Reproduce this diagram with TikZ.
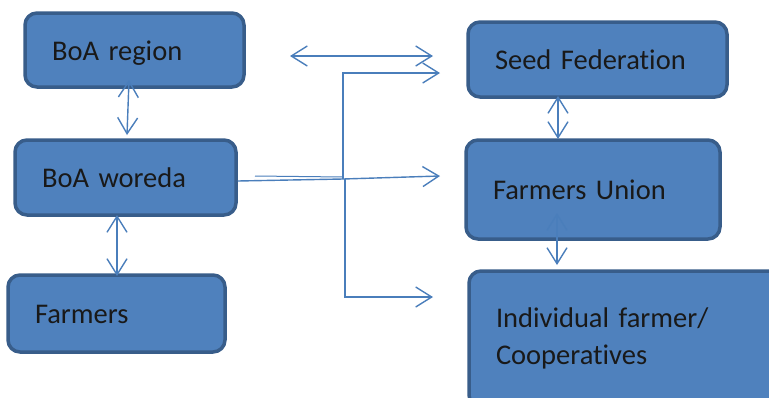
\documentclass[tikz,border=0pt]{standalone}
\usepackage{fontspec}
\setmainfont[RawFeature=-liga, WordSpace=0.85]{Carlito}
\usetikzlibrary{arrows.meta}
\definecolor{boxfill}{HTML}{4F81BD}
\definecolor{boxline}{HTML}{385D8A}
\definecolor{arrowc}{HTML}{4A7EBB}
\tikzset{
  box/.style={draw=boxline, fill=boxfill, line width=3.5pt, rounded corners=12pt,
    inner xsep=27pt, inner ysep=0pt, align=left, text=black!90,
    font=\fontsize{28.5}{37}\selectfont},
  one line/.style={text height=24pt, text depth=4pt},
  conn/.style={draw=arrowc, line width=1.4pt},
  dbl/.style={conn, {Straight Barb[length=16pt,width=20pt]}-{Straight Barb[length=16pt,width=20pt]}},
  one/.style={conn, -{Straight Barb[length=16pt,width=20pt]}}
}
\begin{document}
\begin{tikzpicture}[x=1pt,y=-1pt]
\clip (0,0) rectangle (769,397);
\fill[white] (0,0) rectangle (769,397);
% boxes
\node[box, one line, text width=165pt, minimum height=74pt] (region) at (134.5,50) {BoA region};
\node[box, one line, text width=167pt, minimum height=75pt] (woreda) at (125.5,177.5) {BoA woreda};
\node[box, one line, text width=163pt, minimum height=77pt] (farmers) at (116.5,313.5) {Farmers};
\node[box, one line, text width=205pt, minimum height=75pt] (seed) at (597.5,59.5) {Seed Federation};
\node[box, one line, text width=200pt, minimum height=99pt] (union) at (593,189.5) {Farmers Union};
\node[box, text width=277pt, minimum height=136pt] (indiv) at (634.5,339) {\strut Individual farmer/\\\strut Cooperatives};
% vertical double arrows
\coordinate (r1) at (129,80);
\coordinate (w1) at (127,135);
\draw[dbl] (r1) -- (w1);
\coordinate (w2) at (117,215);
\coordinate (f1) at (117,276);
\draw[dbl] (w2) -- (f1);
\coordinate (s1) at (558,96);
\coordinate (u1) at (558,139);
\draw[dbl] (s1) -- (u1);
\coordinate (u2) at (557,213);
\coordinate (i1) at (557,265);
\draw[dbl] (u2) -- (i1);
% top double arrow
\coordinate (t1) at (290,56);
\coordinate (t2) at (433,56);
\draw[dbl] (t1) -- (t2);
% branching connector from BoA woreda
\coordinate (j) at (343,179);
\coordinate (jb) at (345,179);
\coordinate (jt) at (343,73);
\coordinate (jd) at (345,297);
\coordinate (e1) at (440,73);
\coordinate (e2) at (440,176);
\coordinate (e3) at (433,297);
\draw[conn] (woreda.east |- 0,181) -- (j);
\draw[conn, line width=1pt] (255,176) -- (343,177);
\draw[one] (j) -- (jt) -- (e1);
\draw[one] (j) -- (e2);
\draw[one] (jb) -- (jd) -- (e3);
\end{tikzpicture}
\end{document}
